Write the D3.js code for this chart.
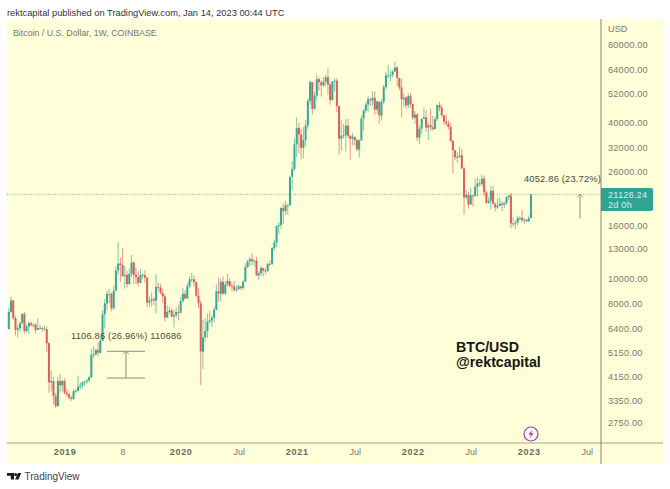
<!DOCTYPE html>
<html>
<head>
<meta charset="utf-8">
<script src="https://cdn.jsdelivr.net/npm/d3@7"></script>
<style>
  html, body { margin: 0; padding: 0; background: #fff; }
  svg { display: block; font-family: "Liberation Sans", sans-serif; }
</style>
</head>
<body>
<svg id="chart" width="670" height="489"></svg>
<script>
// weekly candles, first one is the week of 16 Jul 2018
const firstOpen = 6350;
const closes = [
  7400,8200,7000,6300,6400,6700,7280,6250,6500,6700,6600,6600,6300,6400,6420,6350,6350,5600,3950,4000,3500,3200,4000,3850,4000,
  3600,3550,3450,3410,3650,3660,3800,3850,3950,3980,4020,4140,5050,5070,5270,5150,5720,7250,8000,8700,8700,7650,8950,
  10700,11400,11250,10200,10300,9500,10400,11500,10300,10100,9600,10300,10300,10050,8050,8200,8300,8200,9250,9200,8750,8500,7050,7400,7500,7100,7200,7400,7350,
  8150,8700,8350,9300,9900,9900,9650,8550,8000,5200,5900,6240,6770,6860,7030,7550,8900,8720,9680,8720,9450,9750,9330,9300,9000,9070,9300,9160,9700,11050,11600,11850,11650,11700,10250,10450,10950,10700,10670,11370,11360,13100,13760,15950,16050,18700,18200,19150,19200,24700,26500,33000,
  38200,36000,32000,34300,39000,48600,57500,45300,50900,59000,57400,55800,57700,60000,56200,49000,57800,58200,46400,34700,35600,35800,39000,35600,34700,35300,34250,31500,34200,41500,44600,47000,49300,48800,49900,45000,48300,42700,48200,54900,60900,60900,61300,63200,65500,59700,54800,49300,50000,46700,50800,47300,
  41800,43100,35000,37900,41400,42000,38300,39100,38400,37800,41300,46800,45800,42750,40400,39700,38500,34000,31300,29400,29450,29900,26600,20550,21000,19300,20900,20800,22600,23300,23200,24300,21500,19550,19950,21800,19400,18800,19050,19440,19260,19570,20600,20900,16300,16280,16420,17090,17130,16780,16840,16620,
  17075,21128.24
];
const highs = [
  7700,8480,8250,7150,6600,6800,7300,7410,6600,6800,6800,6680,6700,7000,6600,6480,6550,6500,5650,4400,4150,3600,4150,4250,4050,
  4100,3750,3650,3500,3730,3720,4200,3950,3980,4000,4080,4200,5350,5450,5350,5620,5850,7500,8330,8950,9100,8800,9350,
  11100,13800,12000,13100,11100,10650,10900,12320,11600,10950,10650,10900,10450,10750,10100,8500,8800,8450,10350,9600,9500,9100,8650,7850,7750,7650,7520,7700,7850,
  8470,9200,8990,9570,10170,10500,10250,9700,9180,8180,6900,6990,7300,7470,7200,7780,9470,10070,9950,10150,9750,10420,10000,9600,9770,9400,9470,9350,9840,11420,11800,12100,12480,11800,12090,10680,11180,10990,10950,11480,11740,13200,14100,15960,16480,18900,19500,19920,19420,24800,28400,34800,
  41950,40100,37850,38500,40950,49700,58300,57600,52600,61700,60000,58400,60100,61200,64900,57000,58000,59600,59600,46700,40900,39500,41300,41400,35800,36600,35100,34700,34500,42600,45300,48100,50500,50000,52900,52950,48800,48400,49200,56000,62900,67000,63700,64300,69000,66300,59400,59200,51900,50700,51800,52100,
  47500,44400,43500,38900,41700,45800,44700,40000,45400,42500,42300,47000,48200,47000,42400,43000,40800,40000,34400,31000,30700,32400,31700,26900,21900,21600,22400,21000,24300,24600,24200,25200,25000,21800,20600,22800,22700,19700,20400,20500,19900,19700,20800,21000,21400,17200,16750,17400,17400,18400,17100,16950,
  17500,21128.24
];
const lows = [
  6350,7350,6900,6000,5880,6200,6650,6100,6150,6100,6480,6450,6100,6300,6350,6200,6300,5200,3600,3650,3250,3150,3180,3600,3650,
  3550,3470,3380,3350,3370,3580,3650,3700,3730,3820,3880,3950,4100,4900,5000,5000,5100,5700,6400,7500,8000,7450,7550,
  8950,10300,9700,10100,9100,9200,9400,10100,9500,9500,9300,9550,9900,9600,7750,7750,7800,7850,7300,8900,8650,8000,6800,7000,7250,7050,6450,7050,6850,
  7300,8050,8250,8300,9150,9650,9300,8420,7640,3850,4450,5670,5870,6700,6470,6750,7500,8100,8100,8600,8630,9300,9230,8900,8820,8850,9030,9000,9030,9650,10950,11100,11250,11100,10200,9880,10200,10150,10350,10540,11180,11230,12800,13200,14800,15500,16200,17600,17600,19000,21900,26000,
  29500,30400,28800,29200,32300,37900,47000,43000,44900,49200,53200,50500,54900,55500,51300,47000,48700,53000,43900,30000,31100,34800,31000,34900,28800,32700,32700,31000,29300,34000,37300,43700,43900,46500,46500,42800,43400,39600,40800,47200,53900,59500,57800,60000,62800,55600,53500,42000,46000,45500,45500,45700,
  41000,39700,34000,32950,36200,41700,36800,34300,37200,37150,37600,40600,44300,41900,39200,38700,37700,33700,25400,28700,28000,29300,26600,17600,20200,18650,19250,18950,20800,20700,22700,22700,20800,19500,19500,18500,19300,18150,18500,19000,18200,18650,19200,20050,15600,15800,15500,16000,16700,16500,16250,16450,
  16520,17075
];
const opens = closes.map((c, i) => (i === 0 ? firstOpen : closes[i - 1]));

const priceTicks = [80000, 64000, 52000, 40000, 32000, 26000, 16000, 13000, 10000, 8000, 6400, 5150, 4150, 3350, 2750];
const timeTickWeeks = [25, 51, 77, 103, 129, 155, 181, 207, 233, 259];
const timeTickLabels = ['2019', '8', '2020', 'Jul', '2021', 'Jul', '2022', 'Jul', '2023', 'Jul'];

const lastPrice = 21128.24;
const leftMeasure = [4105.6, 5212.46];
const rightMeasure = [17075.38, 21128.24];

const upColor = '#35a897';
const downColor = '#dc5f58';
const plot = { left: 7, right: 601, top: 19, bottom: 443, outerRight: 663, outerBottom: 464 };

const x = d3.scaleLinear().domain([0, 234]).range([8.8, 531]);
const y = d3.scaleLog().domain([80000, 2750]).range([45, 423]);

const svg = d3.select('#chart');

const defs = svg.append('defs');
defs.append('filter').attr('id', 'soft')
  .attr('x', '-5%').attr('y', '-5%').attr('width', '110%').attr('height', '110%')
  .append('feGaussianBlur').attr('stdDeviation', 0.4);

svg.append('rect')
  .attr('x', plot.left).attr('y', plot.top)
  .attr('width', plot.outerRight - plot.left).attr('height', plot.outerBottom - plot.top)
  .attr('fill', '#feffd9');

// last price line
svg.append('line')
  .attr('x1', plot.left).attr('x2', plot.right)
  .attr('y1', y(lastPrice)).attr('y2', y(lastPrice))
  .attr('stroke', '#6f9f8c').attr('stroke-width', 0.8).attr('stroke-dasharray', '1 1.4');

// candles
const candles = closes.map((c, i) => ({ i, o: opens[i], h: highs[i], l: lows[i], c }));
const candleLayer = svg.append('g').attr('filter', 'url(#soft)');

candleLayer.selectAll('line.wick').data(candles).join('line')
  .attr('class', 'wick')
  .attr('x1', d => x(d.i)).attr('x2', d => x(d.i))
  .attr('y1', d => y(d.h)).attr('y2', d => y(d.l))
  .attr('stroke', d => (d.c >= d.o ? upColor : downColor))
  .attr('stroke-opacity', 0.65)
  .attr('stroke-width', 1);

candleLayer.selectAll('rect.body').data(candles).join('rect')
  .attr('class', 'body')
  .attr('x', d => x(d.i) - 1)
  .attr('width', 2)
  .attr('y', d => y(Math.max(d.o, d.c)))
  .attr('height', d => Math.max(0.9, Math.abs(y(d.o) - y(d.c))))
  .attr('fill', d => (d.c >= d.o ? upColor : downColor));

// axes
const priceAxis = d3.axisRight(y).tickValues(priceTicks).tickFormat(d3.format('.2f')).tickSize(0).tickPadding(7);
const priceG = svg.append('g').attr('transform', `translate(${plot.right},0)`).call(priceAxis);
priceG.select('.domain').remove();
priceG.selectAll('text')
  .attr('font-family', '"Liberation Sans", sans-serif').attr('font-size', 9.2)
  .attr('letter-spacing', 0.2).attr('fill', '#7b7b70');

const timeAxis = d3.axisBottom(x).tickValues(timeTickWeeks)
  .tickFormat((d, i) => timeTickLabels[i]).tickSize(0).tickPadding(6);
const timeG = svg.append('g').attr('transform', `translate(0,${plot.bottom})`).call(timeAxis);
timeG.select('.domain').remove();
timeG.selectAll('text')
  .attr('font-family', '"Liberation Sans", sans-serif').attr('font-size', 9)
  .attr('fill', '#7b7b70')
  .filter((d, i) => /^\d{4}$/.test(timeTickLabels[i]))
  .attr('font-weight', 'bold').attr('letter-spacing', 0.7).attr('fill', '#69695f');

svg.append('line')
  .attr('x1', plot.left).attr('x2', plot.outerRight)
  .attr('y1', plot.bottom).attr('y2', plot.bottom)
  .attr('stroke', '#8b8b80').attr('stroke-width', 0.8);
svg.append('line')
  .attr('x1', plot.right).attr('x2', plot.right)
  .attr('y1', plot.top).attr('y2', plot.outerBottom)
  .attr('stroke', '#77776f').attr('stroke-width', 0.9);

svg.append('text').attr('x', 608).attr('y', 32)
  .attr('font-size', 9.2).attr('fill', '#7b7b70').text('USD');

// last price label
svg.append('path')
  .attr('d', 'M601 188h50a2 2 0 0 1 2 2v19a2 2 0 0 1 -2 2h-50z')
  .attr('fill', '#2fa394');
svg.append('text').attr('x', 608).attr('y', 198)
  .attr('font-size', 9.2).attr('letter-spacing', 0.2).attr('fill', '#d5f1ea').text(d3.format('.2f')(lastPrice));
svg.append('text').attr('x', 608).attr('y', 208)
  .attr('font-size', 9.2).attr('letter-spacing', 0.2).attr('fill', '#d5f1ea').text('2d 0h');

// measure tools
const toolColor = '#8d8d78';
const arrow = (g, ax, from, to) => {
  g.append('line').attr('x1', ax).attr('x2', ax).attr('y1', y(from)).attr('y2', y(to))
    .attr('stroke', toolColor).attr('stroke-width', 1);
  g.append('path')
    .attr('d', `M${ax - 3} ${y(to) + 3}L${ax} ${y(to)}L${ax + 3} ${y(to) + 3}`)
    .attr('fill', 'none').attr('stroke', toolColor).attr('stroke-width', 0.9);
};

const leftTool = svg.append('g');
leftMeasure.forEach(v => {
  leftTool.append('line').attr('x1', 107).attr('x2', 145)
    .attr('y1', y(v)).attr('y2', y(v)).attr('stroke', toolColor).attr('stroke-width', 1);
});
arrow(leftTool, 126, leftMeasure[0], leftMeasure[1]);
svg.append('text').attr('x', 71).attr('y', 339)
  .attr('font-size', 9.3).attr('letter-spacing', 0.2).attr('fill', '#4a4a42')
  .text('1106.86 (26.96%) 110686');

arrow(svg.append('g'), 580, rightMeasure[0], rightMeasure[1]);
svg.append('text').attr('x', 524).attr('y', 182)
  .attr('font-size', 9.3).attr('letter-spacing', 0.2).attr('fill', '#4a4a42')
  .text('4052.86 (23.72%)');

// watermark text, two lines with tight leading
const mark = svg.append('text').attr('font-size', 14.2).attr('font-weight', 'bold').attr('fill', '#16160f');
mark.append('tspan').attr('x', 456).attr('y', 352).text('BTC/USD');
mark.append('tspan').attr('x', 456).attr('y', 366.5).text('@rektcapital');

// ideas badge
const badge = svg.append('g').attr('transform', 'translate(531,434)');
badge.append('circle').attr('r', 7).attr('fill', '#fbf7e6').attr('stroke', '#9a3fb4').attr('stroke-width', 1.2);
badge.append('path').attr('d', 'M1.2 -4L-2.6 0.6H-0.2L-1.2 4L2.6 -0.8H0.2z').attr('fill', '#9a3fb4');

// header and footer
svg.append('text').attr('x', 7).attr('y', 16)
  .attr('font-size', 9.3).attr('fill', '#333').text('rektcapital published on TradingView.com, Jan 14, 2023 00:44 UTC');
svg.append('text').attr('x', 13).attr('y', 36)
  .attr('font-size', 8.8).attr('fill', '#77776c').text('Bitcoin / U.S. Dollar, 1W, COINBASE');

const logo = svg.append('g').attr('fill', '#1c1c1c');
logo.append('path').attr('d', 'M7 473h7v6.5h-3.2v-3.7H7z');
logo.append('circle').attr('cx', 15.6).attr('cy', 474.6).attr('r', 1.5);
logo.append('path').attr('d', 'M18 473h3.3l-2.9 6.5h-3.3z');
svg.append('text').attr('x', 24.5).attr('y', 480)
  .attr('font-size', 10).attr('fill', '#444').text('TradingView');
</script>
</body>
</html>
